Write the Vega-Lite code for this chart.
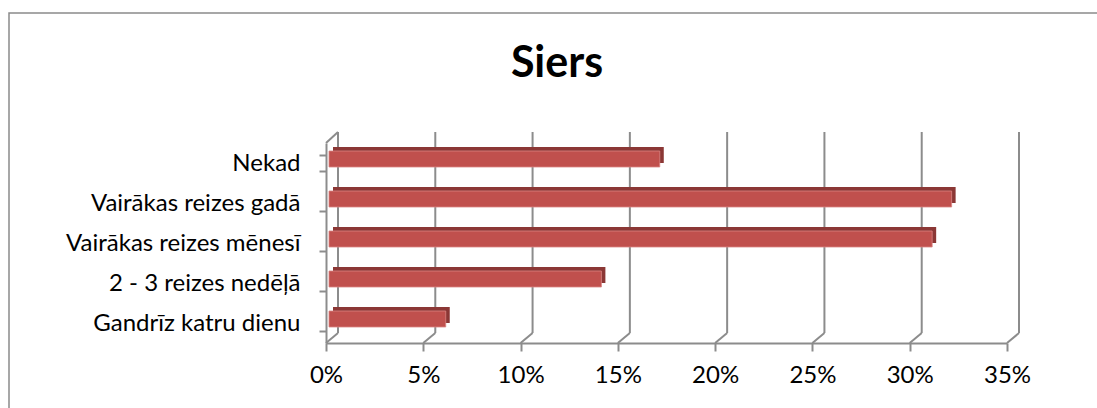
{
  "$schema": "https://vega.github.io/schema/vega-lite/v6.json",
  "autosize": "none",
  "width": 1092,
  "height": 400,
  "padding": {"left": 9, "top": 13, "right": 0, "bottom": 0},
  "background": "white",
  "config": {
    "view": {"stroke": "#8a8a8a", "strokeWidth": 1.5},
    "font": "Lato"
  },
  "datasets": {
    "bars": [
      {"cat": "Nekad", "v": 0.17},
      {"cat": "Vairākas reizes gadā", "v": 0.32},
      {"cat": "Vairākas reizes mēnesī", "v": 0.31},
      {"cat": "2 - 3 reizes nedēļā", "v": 0.14},
      {"cat": "Gandrīz katru dienu", "v": 0.06}
    ],
    "grid": [
      {"t": 0}, {"t": 0.05}, {"t": 0.1}, {"t": 0.15},
      {"t": 0.2}, {"t": 0.25}, {"t": 0.3}, {"t": 0.35}
    ],
    "corner": [{"t": 0}]
  },
  "title": {
    "text": "Siers",
    "font": "Lato",
    "fontSize": 43,
    "fontWeight": "bold",
    "color": "#000000",
    "anchor": "middle",
    "frame": "group",
    "baseline": "alphabetic",
    "offset": 0,
    "dy": 119,
    "dx": 2
  },
  "resolve": {"scale": {"y": "independent"}},
  "layer": [
    {
      "layer": [
        {
          "data": {"name": "grid"},
          "mark": {"type": "rule", "color": "#8c8c8c", "strokeWidth": 2, "xOffset": 12, "yOffset": -10, "y2Offset": -11},
          "encoding": {
            "x": {"field": "t", "type": "quantitative", "scale": {"domain": [0, 0.35], "range": [317, 998], "nice": false, "zero": false},
              "axis": {"orient": "bottom", "offset": -70, "values": [0, 0.05, 0.1, 0.15, 0.2, 0.25, 0.3, 0.35], "format": ".0%", "grid": false,
                "domainColor": "#8c8c8c", "domainWidth": 2, "tickColor": "#8c8c8c", "tickWidth": 2, "tickSize": 8,
                "labelFont": "Lato", "labelFontSize": 24, "labelColor": "#000000", "labelPadding": 12, "title": null, "labelFlush": false, "labelOverlap": false}},
            "y": {"datum": 0, "type": "quantitative", "scale": {"domain": [0, 1], "range": [330, 130]}, "axis": null},
            "y2": {"datum": 1}
          }
        },
        {
          "data": {"name": "grid"},
          "mark": {"type": "rule", "color": "#8c8c8c", "strokeWidth": 2, "x2Offset": 12, "y2Offset": -10},
          "encoding": {
            "x": {"field": "t", "type": "quantitative"},
            "x2": {"field": "t"},
            "y": {"datum": 0, "type": "quantitative", "axis": null},
            "y2": {"datum": 0}
          }
        },
        {
          "data": {"name": "corner"},
          "mark": {"type": "rule", "color": "#8c8c8c", "strokeWidth": 2, "x2Offset": 12, "y2Offset": -11},
          "encoding": {
            "x": {"field": "t", "type": "quantitative"},
            "x2": {"field": "t"},
            "y": {"datum": 1, "type": "quantitative", "axis": null},
            "y2": {"datum": 1}
          }
        }
      ]
    },
    {
      "layer": [
        {
          "data": {"name": "bars"},
          "mark": {"type": "bar", "color": "#8b3735", "xOffset": 7, "x2Offset": 7, "yOffset": -8},
          "encoding": {
            "x": {"field": "v", "type": "quantitative"},
            "x2": {"datum": 0},
            "y": {"field": "cat", "type": "nominal", "sort": null,
              "scale": {"domain": ["Nekad", "Vairākas reizes gadā", "Vairākas reizes mēnesī", "2 - 3 reizes nedēļā", "Gandrīz katru dienu"], "range": [130, 330], "paddingInner": 0.6, "paddingOuter": 0.3},
              "axis": {"orient": "left", "offset": -317, "tickBand": "extent", "domainColor": "#8c8c8c", "domainWidth": 2,
                "tickColor": "#8c8c8c", "tickWidth": 2, "tickSize": 7, "labelFont": "Lato", "labelFontSize": 24, "labelColor": "#000000",
                "labelPadding": 19, "title": null, "labelLimit": 400}}
          }
        },
        {
          "data": {"name": "bars"},
          "mark": {"type": "bar", "color": "#c0504d", "stroke": "#d98583", "strokeWidth": 0.8, "xOffset": 3, "x2Offset": 3, "yOffset": -4},
          "encoding": {
            "x": {"field": "v", "type": "quantitative"},
            "x2": {"datum": 0},
            "y": {"field": "cat", "type": "nominal", "sort": null}
          }
        }
      ]
    }
  ]
}
